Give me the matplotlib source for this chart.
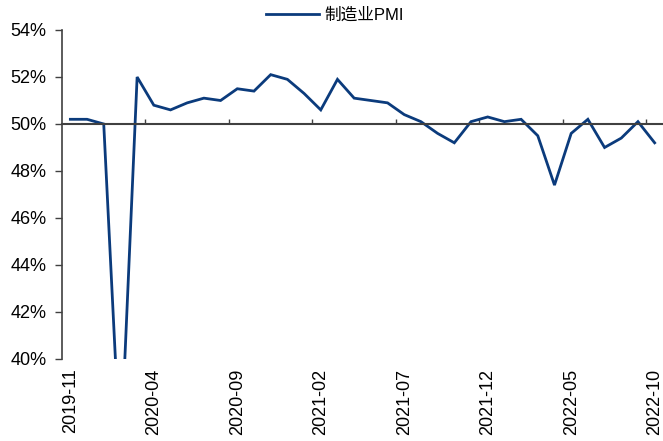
import matplotlib
matplotlib.use("Agg")
import matplotlib.pyplot as plt
from matplotlib.ticker import FuncFormatter, FixedLocator

# 制造业PMI, monthly, 2019-11 .. 2022-10
months = [
    "2019-11", "2019-12", "2020-01", "2020-02", "2020-03", "2020-04",
    "2020-05", "2020-06", "2020-07", "2020-08", "2020-09", "2020-10",
    "2020-11", "2020-12", "2021-01", "2021-02", "2021-03", "2021-04",
    "2021-05", "2021-06", "2021-07", "2021-08", "2021-09", "2021-10",
    "2021-11", "2021-12", "2022-01", "2022-02", "2022-03", "2022-04",
    "2022-05", "2022-06", "2022-07", "2022-08", "2022-09", "2022-10",
]
pmi = [
    50.2, 50.2, 50.0, 35.7, 52.0, 50.8,
    50.6, 50.9, 51.1, 51.0, 51.5, 51.4,
    52.1, 51.9, 51.3, 50.6, 51.9, 51.1,
    51.0, 50.9, 50.4, 50.1, 49.6, 49.2,
    50.1, 50.3, 50.1, 50.2, 49.5, 47.4,
    49.6, 50.2, 49.0, 49.4, 50.1, 49.2,
]
series_name = "制造业PMI"
y_ticks = [40, 42, 44, 46, 48, 50, 52, 54]
label_step = 5

fonts = ["Liberation Sans", "Noto Sans CJK SC", "DejaVu Sans"]
plt.rcParams["font.family"] = fonts

fig = plt.figure(figsize=(6.63, 4.41), dpi=100)
ax = fig.add_axes([62 / 663, (441 - 359) / 441, (663 - 62) / 663, (359 - 30) / 441])

x = list(range(len(months)))
line, = ax.plot(x, pmi, color="#0B3B7C", linewidth=2.0, solid_joinstyle="miter",
                label=series_name, clip_on=True)

ax.set_xlim(-0.5, len(months) - 0.5)
ax.set_ylim(y_ticks[0], y_ticks[-1])

# y axis: only left spine, outward ticks
for side in ("top", "right"):
    ax.spines[side].set_visible(False)
ax.spines["left"].set_color("#404040")
ax.spines["left"].set_linewidth(1.2)
ax.set_yticks(y_ticks)
ax.yaxis.set_major_formatter(FuncFormatter(lambda v, _: f"{v:.0f}%"))
ax.tick_params(axis="y", direction="out", length=5, width=1.0, color="#404040",
               labelsize=13, pad=6, labelcolor="#000000")

# category axis crossing at 50%, ticks between categories
ax.spines["bottom"].set_position(("data", 50))
ax.spines["bottom"].set_color("#404040")
ax.spines["bottom"].set_linewidth(1.5)
boundaries = [i - 0.5 for i in range(label_step, len(months), label_step)]
ax.xaxis.set_major_locator(FixedLocator(boundaries))
ax.tick_params(axis="x", direction="in", length=3.5, width=1.0, color="#404040",
               labelbottom=False)

# month labels along the bottom edge
lab = ax.secondary_xaxis(0.0)
label_pos = list(range(0, len(months), label_step))
lab.set_xticks(label_pos)
lab.set_xticklabels([months[i] for i in label_pos], rotation=90)
lab.tick_params(axis="x", length=0, labelsize=13, pad=7)
lab.spines["bottom"].set_visible(False)

fig.legend(handles=[line], loc="center", bbox_to_anchor=(335 / 663, 1 - 15 / 441),
           frameon=False, fontsize=12, handlelength=3.2, handletextpad=0.3,
           borderaxespad=0)

fig.savefig("out.png", dpi=100)
